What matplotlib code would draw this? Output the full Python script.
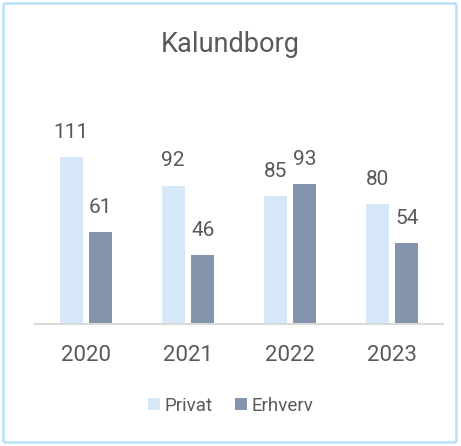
import numpy as np
import matplotlib.pyplot as plt
from matplotlib.patches import FancyBboxPatch

years = ["2020", "2021", "2022", "2023"]
privat = [111, 92, 85, 80]
erhverv = [61, 46, 93, 54]

c_priv = "#D6E8F8"
c_erh = "#8594AD"
txt = "#595959"

plt.rcParams["font.family"] = ["Roboto", "DejaVu Sans"]

fig = plt.figure(figsize=(4.61, 4.46), dpi=100)
W, H = 461, 446

# outer border
fig.patches.append(FancyBboxPatch((3.5 / W, 3.5 / H), 453 / W, 439 / H,
                                  boxstyle="round,pad=0,rounding_size=0.005",
                                  transform=fig.transFigure, fill=False,
                                  edgecolor="#BDE3F8", linewidth=2))

ax = fig.add_axes([35 / W, (H - 324) / H, 408 / W, 214 / H])
x = np.arange(len(years))
w = 0.225
off = 0.145
b1 = ax.bar(x - off, privat, w, color=c_priv)
b2 = ax.bar(x + off, erhverv, w, color=c_erh)

for bars, vals in ((b1, privat), (b2, erhverv)):
    for b, v in zip(bars, vals):
        ax.text(b.get_x() + b.get_width() / 2, v + 10, str(v), ha="center",
                va="bottom", fontsize=15, color=txt)

ax.set_xlim(-0.5, 3.5)
ax.set_ylim(0, 142.2)
ax.set_yticks([])
ax.set_xticks(x)
ax.set_xticklabels(years, fontsize=16, color=txt)
ax.tick_params(axis="x", length=0, pad=15)
for s in ["top", "right", "left"]:
    ax.spines[s].set_visible(False)
ax.spines["bottom"].set_color("#D9D9D9")
ax.spines["bottom"].set_linewidth(1.5)

fig.text(0.5, (H - 45) / H, "Kalundborg", ha="center", va="center",
         fontsize=19.5, color=txt)

leg = fig.legend([b1, b2], ["Privat", "Erhverv"], loc="center",
                 bbox_to_anchor=(0.5, (H - 406) / H), ncol=2, frameon=False,
                 fontsize=13.5, handlelength=0.62, handleheight=0.62,
                 handletextpad=0.25, columnspacing=1.2, labelcolor=txt)

fig.savefig("out.png", dpi=100)
